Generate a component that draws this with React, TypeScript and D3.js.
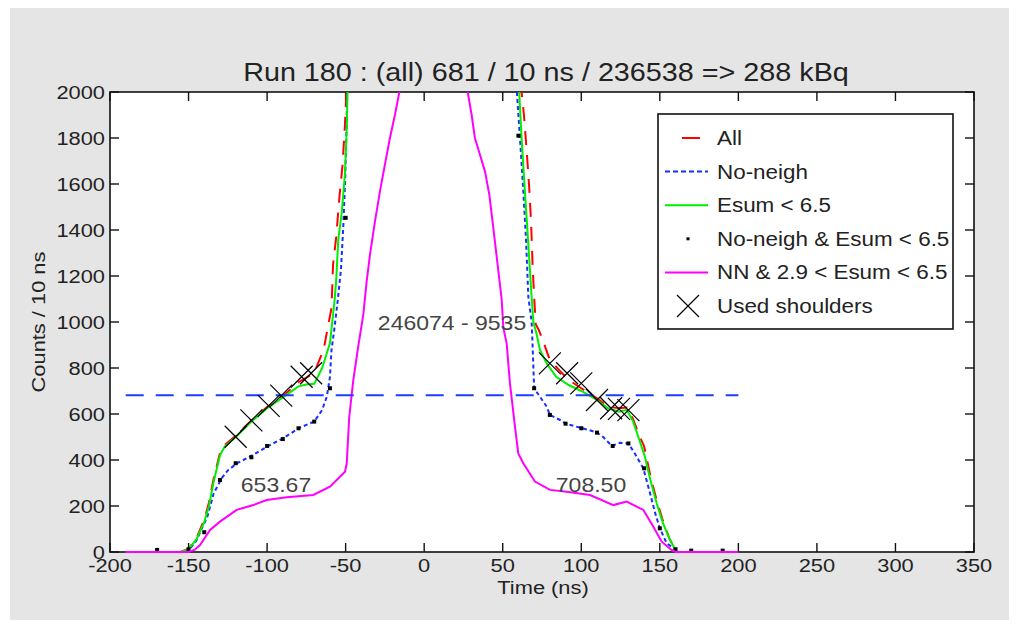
import React from 'react';
import * as d3 from 'd3';

type Pt = [number, number];

// time (ns), counts / 10 ns
const allSeries: Pt[] = [
  [-155, 0], [-150, 14], [-145, 60], [-140, 140], [-137, 215], [-134, 320], [-130, 430], [-127, 465],
  [-120, 505], [-110, 572], [-100, 630], [-90, 678], [-80, 738], [-75, 758], [-70, 780], [-67, 830],
  [-64, 880], [-61, 990], [-59, 1060], [-58, 1250], [-56, 1370], [-54, 1540], [-52, 1680], [-50.5, 1850],
  [-49.5, 2000], [-48, 2900], [-45, 5200], [-40, 11000], [-30, 23000], [-20, 31000], [-10, 35000],
  [0, 36000], [10, 35000], [20, 32000], [30, 26000], [40, 17000], [50, 9000], [56, 4200], [60, 2500],
  [62, 2000], [63.5, 1900], [65.3, 1740], [66.8, 1590], [68, 1440], [69, 1250], [70, 1110], [71, 990],
  [73, 965], [75, 930], [80, 835], [87, 783], [92, 748], [100, 712], [110, 668], [117, 632], [124, 625],
  [129, 628], [133, 578], [137, 505], [140, 460], [144, 330], [148, 225], [152, 135], [156, 60],
  [160, 8], [162, 0],
];

const noNeighSeries: Pt[] = [
  [-152, 0], [-150, 5], [-145, 50], [-141, 110], [-138, 154], [-134, 255], [-129, 320], [-125, 355],
  [-119, 386], [-109, 422], [-99, 462], [-90, 494], [-79, 541], [-70, 567], [-65, 617], [-62, 675],
  [-60, 760], [-59, 878], [-57, 980], [-55, 1096], [-53, 1226], [-51.5, 1414], [-50.3, 1620],
  [-49.5, 1830], [-49, 2000], [-46, 3400], [-40, 8500], [-30, 19000], [-20, 27000], [-10, 31000],
  [0, 32000], [10, 31000], [20, 28000], [30, 22000], [40, 14000], [50, 7000], [56, 3200], [59, 2000],
  [61, 1797], [63, 1580], [64.8, 1362], [66.3, 1110], [68.4, 1000], [69, 900], [69.5, 806], [70, 712],
  [73.7, 675], [78, 632], [80, 596], [86.5, 574], [90, 558], [99, 541], [105, 530], [110, 519],
  [114, 500], [119.4, 461], [124.7, 475], [130, 472], [134, 429], [139.5, 364], [143.8, 255],
  [147, 170], [150, 103], [154.4, 38], [160, 10], [163, 0],
];

const esumSeries: Pt[] = [
  [-155, 0], [-150, 12], [-145, 55], [-140, 130], [-137, 200], [-134, 306], [-130, 420], [-127, 458],
  [-120, 500], [-110, 567], [-100, 625], [-90, 672], [-80, 720], [-75, 728], [-70, 731], [-65, 799],
  [-60, 907], [-57, 1096], [-56, 1183], [-54.7, 1357], [-52.5, 1474], [-50.4, 1648], [-49.3, 1840],
  [-48.8, 2000], [-47, 2700], [-45, 4800], [-40, 10000], [-30, 21000], [-20, 29000], [-10, 33000],
  [0, 34000], [10, 33000], [20, 30000], [30, 24000], [40, 15500], [50, 8000], [56, 3600], [59, 2400],
  [60.5, 2000], [62, 1800], [64, 1580], [66, 1370], [68, 1150], [69.5, 1000], [71.5, 950],
  [73.7, 878], [78, 820], [84, 762], [92, 726], [100, 700], [110, 661], [117, 625], [124, 610],
  [129, 618], [133, 567], [137, 487], [140.5, 414], [144, 313], [148, 212], [152, 125], [156.5, 52],
  [160.5, 2], [162, 0],
];

const noNeighEsumPoints: Pt[] = [
  [-170, 9], [-150, 12], [-140, 86], [-130, 313], [-120, 386], [-110, 412], [-100, 461], [-90, 491],
  [-80, 538], [-70, 567], [-60, 712], [-50, 1453], [-40, 8200], [-30, 18500], [-20, 26500],
  [-10, 30500], [0, 31500], [10, 30500], [20, 27500], [30, 21500], [40, 13500], [50, 6800],
  [60, 1810], [70, 712], [80, 596], [90, 558], [100, 538], [110, 519], [120, 461], [130, 472],
  [140, 364], [150, 103], [160, 12], [170, 6], [190, 6],
];

const nnWindowSeries: Pt[] = [
  [-190, 0], [-150, 0], [-146, 10], [-142.7, 30], [-136.3, 96], [-130, 132], [-119.4, 183],
  [-108.8, 204], [-100.3, 226], [-87.5, 238], [-70.6, 248], [-60, 284], [-50.4, 349], [-49.3, 386],
  [-47.7, 588], [-45.1, 748], [-42, 893], [-38.7, 1035], [-36.6, 1178], [-34.5, 1293], [-31.3, 1439],
  [-28.1, 1570], [-25, 1684], [-21.8, 1800], [-18.6, 1901], [-15.8, 2000], [-10, 2500], [0, 3000],
  [15, 2800], [27.7, 2000], [30.2, 1901], [32.3, 1800], [35.5, 1727], [38.7, 1655], [41.5, 1553],
  [44, 1409], [46.5, 1264], [49.3, 1100], [50.4, 974], [52.5, 907], [54.6, 733], [57.8, 545],
  [59.9, 429], [63.1, 386], [70.5, 306], [80.1, 270], [90.7, 262], [105.6, 248], [120.4, 204],
  [128.9, 219], [139.5, 183], [145.9, 110], [151.2, 45], [157.5, 9], [160, 0], [200, 0],
];

const shoulderPoints: Pt[] = [
  [-120, 501], [-110, 572], [-99, 635], [-91, 680], [-78, 762], [-72, 777],
  [80, 820], [91, 777], [100, 733], [110, 661], [119, 625], [124, 622], [130, 617],
];

const plateauLevel = 681;
const plateauRange: [number, number] = [-190, 200];

const titleText = 'Run 180 : (all) 681 / 10 ns / 236538 => 288 kBq';
const centerNote = '246074 - 9535';
const leftNote = '653.67';
const rightNote = '708.50';
const legendLabels = ['All', 'No-neigh', 'Esum < 6.5', 'No-neigh & Esum < 6.5', 'NN & 2.9 < Esum < 6.5', 'Used shoulders'];

const xTicks = d3.range(-200, 351, 50);
const yTicks = d3.range(0, 2001, 200);

const W = 1019;
const H = 626;
const FONT = '"Liberation Sans", Arial, Helvetica, sans-serif';
const SX = 1.15;

const Txt = ({ x, y, size, anchor = 'start', fill = '#222', rotate = 0, children }: any) => (
  <text
    transform={`translate(${x},${y}) rotate(${rotate}) scale(${SX},1)`}
    fontSize={size}
    fontFamily={FONT}
    textAnchor={anchor}
    fill={fill}
  >
    {children}
  </text>
);

const crossPath = 'M-11,-11L11,11M-11,11L11,-11';

export default function App() {
  const x = d3.scaleLinear().domain([-200, 350]).range([110, 974]);
  const y = d3.scaleLinear().domain([0, 2000]).range([552, 92]);
  const line = d3.line<Pt>().x(d => x(d[0])).y(d => y(d[1]));
  const [x0, x1] = x.range();
  const [y0, y1] = y.range();

  const legX = 658, legY = 114, legW = 295, legH = 215;
  const rowY = (i: number) => 138 + i * 33.6;

  return (
    <svg width={W} height={H} style={{ position: 'absolute', left: 0, top: 0, display: 'block' }}>
      <rect x={0} y={0} width={W} height={H} fill="#fff" />
      <rect x={10} y={8} width={999} height={612} fill="#e5e5e5" />
      <defs>
        <clipPath id="plotClip">
          <rect x={x0} y={y1} width={x1 - x0} height={y0 - y1 + 1.5} />
        </clipPath>
      </defs>
      <rect x={x0} y={y1} width={x1 - x0} height={y0 - y1} fill="#fff" />

      {/* axes box + ticks */}
      <rect x={x0} y={y1} width={x1 - x0} height={y0 - y1} fill="none" stroke="#111" strokeWidth={1.6} />
      {xTicks.map(t => (
        <g key={t}>
          <line x1={x(t)} x2={x(t)} y1={y0} y2={y0 - 9} stroke="#111" strokeWidth={1.4} />
          <line x1={x(t)} x2={x(t)} y1={y1} y2={y1 + 9} stroke="#111" strokeWidth={1.4} />
          <Txt x={x(t)} y={572} size={19} anchor="middle">{t}</Txt>
        </g>
      ))}
      {yTicks.map(t => (
        <g key={t}>
          <line x1={x0} x2={x0 + 9} y1={y(t)} y2={y(t)} stroke="#111" strokeWidth={1.4} />
          <line x1={x1} x2={x1 - 9} y1={y(t)} y2={y(t)} stroke="#111" strokeWidth={1.4} />
          <Txt x={105} y={y(t) + 7} size={19} anchor="end">{t}</Txt>
        </g>
      ))}

      <g clipPath="url(#plotClip)" fill="none">
        <path d={line(allSeries) || ''} stroke="#ff0000" strokeWidth={2} strokeDasharray="14,10" />
        <path d={line(noNeighSeries) || ''} stroke="#1530ff" strokeWidth={2} strokeDasharray="4,3" />
        <path d={line(esumSeries) || ''} stroke="#00ee00" strokeWidth={2} />
        {noNeighEsumPoints.map((d, i) => (
          <rect key={i} x={x(d[0]) - 2} y={y(d[1]) - 2} width={4} height={4} fill="#000" />
        ))}
        <path d={line(nnWindowSeries) || ''} stroke="#ff00ff" strokeWidth={2} />
        <line
          x1={x(plateauRange[0])} x2={x(plateauRange[1])}
          y1={y(plateauLevel)} y2={y(plateauLevel)}
          stroke="#1f3cff" strokeWidth={2} strokeDasharray="18,12"
        />
        {shoulderPoints.map((d, i) => (
          <path key={i} d={crossPath} transform={`translate(${x(d[0])},${y(d[1])})`} stroke="#000" strokeWidth={1.2} />
        ))}
      </g>

      <Txt x={(x0 + x1) / 2 + 4} y={81} size={25} anchor="middle">{titleText}</Txt>
      <Txt x={543} y={594} size={19} anchor="middle">Time (ns)</Txt>
      <Txt x={45} y={322} size={19} anchor="middle" rotate={-90}>Counts / 10 ns</Txt>

      <Txt x={452} y={330} size={20} anchor="middle" fill="#444">{centerNote}</Txt>
      <Txt x={276} y={492} size={20} anchor="middle" fill="#444">{leftNote}</Txt>
      <Txt x={591} y={492} size={20} anchor="middle" fill="#444">{rightNote}</Txt>

      {/* legend */}
      <rect x={legX} y={legY} width={legW} height={legH} fill="#fff" stroke="#111" strokeWidth={1.6} />
      <line x1={682} x2={700} y1={rowY(0)} y2={rowY(0)} stroke="#ff0000" strokeWidth={2} />
      <line x1={665} x2={708} y1={rowY(1)} y2={rowY(1)} stroke="#1530ff" strokeWidth={2} strokeDasharray="5,3" />
      <line x1={665} x2={708} y1={rowY(2)} y2={rowY(2)} stroke="#00ee00" strokeWidth={2} />
      <rect x={686.5} y={rowY(3) - 1.5} width={3} height={3} fill="#000" />
      <line x1={665} x2={708} y1={rowY(4)} y2={rowY(4)} stroke="#ff00ff" strokeWidth={2} />
      <path d={crossPath} transform={`translate(688,${rowY(5)})`} stroke="#000" strokeWidth={1.2} />
      {legendLabels.map((l, i) => (
        <Txt key={l} x={717} y={rowY(i) + 7} size={19.5}>{l}</Txt>
      ))}
    </svg>
  );
}
